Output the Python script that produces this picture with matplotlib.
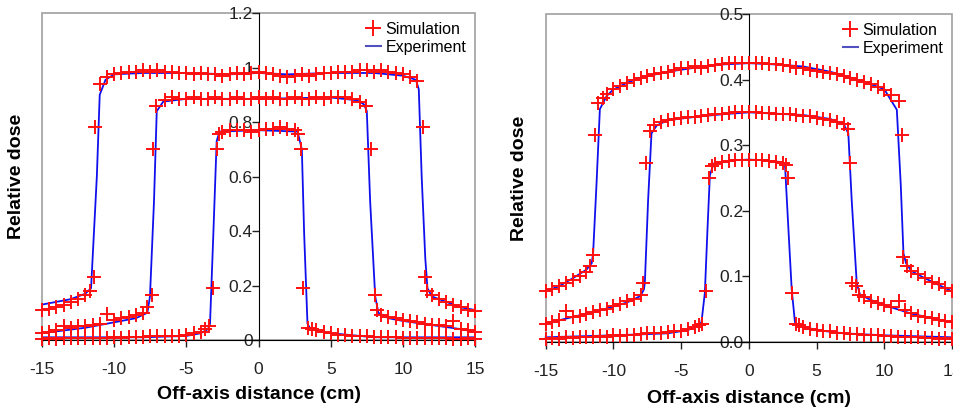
import matplotlib.pyplot as plt
from matplotlib.patches import Rectangle
from matplotlib.lines import Line2D

plt.rcParams['font.family'] = ['Liberation Sans', 'DejaVu Sans']
plt.rcParams['axes.unicode_minus'] = False

# ---------------- Left panel (open field, dose up to 1.2) ----------------
# large field
L_big_sim_x = [-15, -14.5, -14, -13.5, -13, -12.5, -12, -11.7, -11.38, -11.33, -11.0, -10.5, -10, -9.5,
               -9, -8.5, -8, -7.5, -7, -6.5, -6, -5.5, -5, -4.5, -4, -3.5, -3, -2.5, -2, -1.5, -1, -0.5,
               0, 0.5, 1, 1.5, 2, 2.5, 3, 3.5, 4, 4.5, 5, 5.5, 6, 6.5, 7, 7.5, 8, 8.5, 9, 9.5, 10, 10.5,
               11, 11.38, 11.54, 11.7, 12, 12.5, 13, 13.5, 14, 14.5, 15]
L_big_sim_y = [0.11, 0.115, 0.12, 0.13, 0.14, 0.15, 0.165, 0.18, 0.23, 0.78, 0.94, 0.965, 0.975, 0.98,
               0.985, 0.985, 0.99, 0.985, 0.99, 0.985, 0.985, 0.98, 0.98, 0.975, 0.98, 0.975, 0.975, 0.97,
               0.975, 0.98, 0.975, 0.98, 0.985, 0.98, 0.975, 0.97, 0.965, 0.97, 0.975, 0.97, 0.975, 0.98,
               0.98, 0.985, 0.985, 0.985, 0.99, 0.99, 0.985, 0.99, 0.985, 0.98, 0.975, 0.965, 0.95, 0.78,
               0.23, 0.18, 0.165, 0.15, 0.14, 0.13, 0.12, 0.11, 0.105]
L_big_exp_x = [-15, -14, -13, -12, -11.6, -11.2, -11.0, -10.6, -10, -8, -5, -2, 0, 2, 5, 8, 10, 10.9,
               11.1, 11.3, 11.55, 11.7, 12, 13, 14, 15]
L_big_exp_y = [0.13, 0.14, 0.15, 0.17, 0.19, 0.6, 0.9, 0.955, 0.975, 0.98, 0.98, 0.975, 0.98, 0.975,
               0.98, 0.98, 0.97, 0.955, 0.92, 0.6, 0.3, 0.19, 0.16, 0.14, 0.12, 0.11]

# medium field
L_mid_sim_x = [-15, -14.5, -14, -13.5, -13, -12.5, -12, -11.5, -11, -10.5, -10, -9.5, -9, -8.5, -8,
               -7.7, -7.4, -7.28, -7.1, -6.5, -6, -5.5, -5, -4.5, -4, -3.5, -3, -2.5, -2, -1.5, -1, -0.5,
               0, 0.5, 1, 1.5, 2, 2.5, 3, 3.5, 4, 4.5, 5, 5.5, 6, 6.5, 7, 7.45, 7.78, 8.06, 8.2, 8.5, 9,
               9.5, 10, 10.5, 11, 11.5, 12, 12.5, 13, 13.5, 14, 14.5, 15]
L_mid_sim_y = [0.025, 0.03, 0.035, 0.05, 0.045, 0.05, 0.05, 0.055, 0.06, 0.095, 0.075, 0.08, 0.085, 0.09,
               0.1, 0.12, 0.165, 0.70, 0.86, 0.88, 0.89, 0.885, 0.885, 0.89, 0.885, 0.885, 0.89, 0.885,
               0.885, 0.89, 0.885, 0.885, 0.89, 0.885, 0.89, 0.885, 0.885, 0.89, 0.885, 0.885, 0.89,
               0.885, 0.89, 0.89, 0.89, 0.885, 0.875, 0.86, 0.70, 0.165, 0.11, 0.09, 0.085, 0.08, 0.075,
               0.07, 0.065, 0.06, 0.055, 0.055, 0.05, 0.07, 0.04, 0.035, 0.03]
L_mid_exp_x = [-15, -12, -10, -8.5, -7.7, -7.52, -7.24, -7.05, -6.6, -5, 0, 5, 6.8, 7.3, 7.5, 7.73, 8.08,
               8.3, 9, 10, 12, 14, 15]
L_mid_exp_y = [0.025, 0.045, 0.065, 0.08, 0.1, 0.16, 0.51, 0.84, 0.875, 0.885, 0.885, 0.89, 0.88, 0.865,
               0.84, 0.51, 0.16, 0.1, 0.08, 0.07, 0.055, 0.04, 0.03]

# small field
L_small_sim_x = [-15, -14.5, -14, -13.5, -13, -12.5, -12, -11.5, -11, -10.5, -10, -9.5, -9, -8.5, -8,
                 -7.5, -7, -6.5, -6, -5.5, -5, -4.5, -4, -3.7, -3.45, -3.13, -2.9, -2.75, -2.5, -2, -1.5,
                 -1, -0.5, 0, 0.5, 1, 1.5, 2, 2.5, 2.75, 2.95, 3.1, 3.43, 3.7, 4, 4.5, 5, 5.5, 6, 6.5, 7,
                 7.5, 8, 8.5, 9, 9.5, 10, 10.5, 11, 11.5, 12, 12.5, 13, 13.5, 14, 14.5, 15]
L_small_sim_y = [0.005, 0.006, 0.005, 0.007, 0.006, 0.007, 0.008, 0.007, 0.009, 0.008, 0.01, 0.009, 0.01,
                 0.011, 0.012, 0.013, 0.014, 0.014, 0.015, 0.016, 0.02, 0.025, 0.03, 0.04, 0.05, 0.19,
                 0.70, 0.755, 0.765, 0.77, 0.77, 0.77, 0.765, 0.77, 0.775, 0.775, 0.78, 0.775, 0.77, 0.755,
                 0.70, 0.19, 0.045, 0.04, 0.035, 0.03, 0.025, 0.02, 0.018, 0.016, 0.015, 0.013, 0.012,
                 0.011, 0.01, 0.01, 0.009, 0.008, 0.008, 0.007, 0.007, 0.006, 0.006, 0.005, 0.005, 0.006,
                 0.005]
L_small_exp_x = [-15, -8, -5, -4, -3.5, -3.36, -3.13, -2.9, -2.7, 0, 2.7, 3.0, 3.16, 3.39, 3.6, 4, 5, 8, 15]
L_small_exp_y = [0.01, 0.01, 0.015, 0.025, 0.04, 0.06, 0.39, 0.73, 0.765, 0.77, 0.765, 0.70, 0.39, 0.06,
                 0.04, 0.035, 0.025, 0.01, 0.01]

# ---------------- Right panel (dose up to 0.5) ----------------
R_big_sim_x = [-15, -14.5, -14, -13.5, -13, -12.5, -12, -11.7, -11.5, -11.38, -11.15, -10.8, -10.5, -10,
               -9.5, -9, -8.5, -8, -7.5, -7, -6.5, -6, -5.5, -5, -4.5, -4, -3.5, -3, -2.5, -2, -1.5, -1,
               -0.5, 0, 0.5, 1, 1.5, 2, 2.5, 3, 3.5, 4, 4.5, 5, 5.5, 6, 6.5, 7, 7.5, 8, 8.5, 9, 9.5, 10,
               10.5, 11.05, 11.3, 11.4, 11.65, 12, 12.5, 13, 13.5, 14, 14.5, 15]
R_big_sim_y = [0.077, 0.08, 0.085, 0.09, 0.095, 0.1, 0.107, 0.115, 0.133, 0.315, 0.365, 0.372, 0.378,
               0.385, 0.39, 0.395, 0.4, 0.402, 0.405, 0.408, 0.41, 0.412, 0.415, 0.418, 0.418, 0.42,
               0.418, 0.42, 0.422, 0.423, 0.425, 0.425, 0.425, 0.426, 0.425, 0.425, 0.424, 0.423, 0.422,
               0.42, 0.418, 0.417, 0.415, 0.413, 0.412, 0.41, 0.408, 0.405, 0.402, 0.4, 0.396, 0.393,
               0.388, 0.384, 0.377, 0.367, 0.315, 0.13, 0.115, 0.108, 0.103, 0.097, 0.092, 0.088, 0.082,
               0.077]
R_big_exp_x = [-15, -14, -13, -12, -11.6, -11.5, -11.25, -11.0, -10.5, -10, -9, -8, -6, -4, -2, 0, 2, 4,
               6, 8, 9, 10, 10.92, 11.21, 11.41, 11.6, 12, 13, 14, 15]
R_big_exp_y = [0.077, 0.085, 0.097, 0.11, 0.12, 0.135, 0.24, 0.355, 0.375, 0.385, 0.395, 0.403, 0.412,
               0.418, 0.423, 0.425, 0.423, 0.42, 0.412, 0.4, 0.393, 0.385, 0.354, 0.24, 0.135, 0.12,
               0.108, 0.097, 0.087, 0.077]

R_mid_sim_x = [-15, -14.5, -14, -13.5, -13, -12.5, -12, -11.5, -11, -10.5, -10, -9.5, -9, -8.5, -8,
               -7.8, -7.56, -7.3, -7, -6.5, -6, -5.5, -5, -4.5, -4, -3.5, -3, -2.5, -2, -1.5, -1, -0.5,
               0, 0.5, 1, 1.5, 2, 2.5, 3, 3.5, 4, 4.5, 5, 5.5, 6, 6.5, 7, 7.3, 7.47, 7.59, 7.9, 8.1, 8.5,
               9, 9.5, 10, 10.5, 11.1, 11.5, 12, 12.5, 13, 13.5, 14, 14.5, 15]
R_mid_sim_y = [0.028, 0.03, 0.033, 0.047, 0.038, 0.04, 0.043, 0.045, 0.048, 0.05, 0.055, 0.058, 0.062,
               0.066, 0.072, 0.09, 0.273, 0.322, 0.33, 0.335, 0.338, 0.34, 0.342, 0.343, 0.343, 0.345,
               0.346, 0.347, 0.348, 0.349, 0.35, 0.35, 0.35, 0.35, 0.349, 0.349, 0.348, 0.348, 0.347,
               0.346, 0.345, 0.344, 0.342, 0.34, 0.338, 0.335, 0.332, 0.325, 0.273, 0.09, 0.085, 0.072,
               0.068, 0.063, 0.06, 0.057, 0.053, 0.062, 0.048, 0.044, 0.04, 0.038, 0.036, 0.034, 0.032,
               0.03]
R_mid_exp_x = [-15, -13, -11, -9, -8, -7.75, -7.68, -7.44, -7.19, -6.8, -6, -4, -2, 0, 2, 4, 6, 7, 7.34,
               7.59, 7.96, 8.2, 9, 10, 12, 14, 15]
R_mid_exp_y = [0.028, 0.038, 0.048, 0.06, 0.07, 0.08, 0.09, 0.216, 0.318, 0.33, 0.338, 0.343, 0.347,
               0.35, 0.348, 0.346, 0.34, 0.332, 0.318, 0.216, 0.09, 0.072, 0.064, 0.056, 0.043, 0.034,
               0.03]

R_small_sim_x = [-15, -14.5, -14, -13.5, -13, -12.5, -12, -11.5, -11, -10.5, -10, -9.5, -9, -8.5, -8,
                 -7.5, -7, -6.5, -6, -5.5, -5, -4.5, -4, -3.7, -3.45, -3.15, -2.95, -2.7, -2.5, -2, -1.5,
                 -1, -0.5, 0, 0.5, 1, 1.5, 2, 2.5, 2.75, 2.91, 3.16, 3.45, 3.7, 4, 4.5, 5, 5.5, 6, 6.5, 7,
                 7.5, 8, 8.5, 9, 9.5, 10, 10.5, 11, 11.5, 12, 12.5, 13, 13.5, 14, 14.5, 15]
R_small_sim_y = [0.005, 0.006, 0.005, 0.007, 0.006, 0.007, 0.008, 0.007, 0.009, 0.008, 0.01, 0.009, 0.01,
                 0.011, 0.012, 0.013, 0.014, 0.014, 0.015, 0.016, 0.017, 0.019, 0.022, 0.025, 0.028,
                 0.077, 0.25, 0.268, 0.272, 0.275, 0.276, 0.277, 0.278, 0.278, 0.277, 0.277, 0.276, 0.275,
                 0.273, 0.27, 0.25, 0.075, 0.028, 0.025, 0.022, 0.02, 0.018, 0.017, 0.016, 0.014, 0.013,
                 0.012, 0.012, 0.011, 0.01, 0.01, 0.009, 0.009, 0.008, 0.008, 0.007, 0.007, 0.006, 0.006,
                 0.005, 0.006, 0.005]
R_small_exp_x = [-15, -10, -6, -4.5, -3.7, -3.5, -3.25, -3.05, -2.88, -2.6, -1, 0, 1, 2.5, 2.67, 2.91,
                 3.16, 3.4, 3.7, 5, 7, 10, 15]
R_small_exp_y = [0.007, 0.01, 0.013, 0.018, 0.025, 0.03, 0.075, 0.175, 0.254, 0.272, 0.277, 0.278, 0.277,
                 0.274, 0.268, 0.175, 0.08, 0.03, 0.025, 0.018, 0.013, 0.01, 0.007]

L_yticks = [0, 0.2, 0.4, 0.6, 0.8, 1.0, 1.2]
L_yticklabels = ['0', '0.2', '0.4', '0.6', '0.8', '1', '1.2']
R_yticks = [0, 0.1, 0.2, 0.3, 0.4, 0.5]
R_yticklabels = ['0.0', '0.1', '0.2', '0.3', '0.4', '0.5']
xticks = [-15, -10, -5, 0, 5, 10, 15]

fig = plt.figure(figsize=(9.54, 4.07), dpi=100)
ax1 = fig.add_axes([0.044, 0.1646, 0.454, 0.8034])
ax2 = fig.add_axes([0.572, 0.160, 0.426, 0.8056])


def draw_panel(ax, curves, ylim, yticks, yticklabels, ylab_x, xlab_y):
    for ex, ey, sx, sy in curves:
        ax.plot(ex, ey, color='#1010ee', lw=1.3, zorder=2, clip_on=False)
        ax.plot(sx, sy, ls='none', marker='+', color='#ff1010', ms=9.5, mew=1.4, zorder=3, clip_on=False)
    ax.set_xlim(-15, 15)
    ax.set_ylim(*ylim)
    ax.spines['left'].set_position(('data', 0))
    ax.spines['left'].set_color('black')
    ax.spines['bottom'].set_color('black')
    for s in ['top', 'right']:
        ax.spines[s].set_visible(False)
    ax.add_patch(Rectangle((0, 0), 1, 1, transform=ax.transAxes, fill=False,
                           edgecolor='#a0a0a0', lw=1.2, zorder=0, clip_on=False))
    ax.set_yticks(yticks)
    ax.set_yticklabels(yticklabels)
    ax.set_xticks(xticks)
    ax.tick_params(axis='y', direction='out', length=5, width=1, labelsize=12.5, pad=-1, colors='#222222')
    ax.tick_params(axis='x', direction='out', length=5, width=1, labelsize=12.5, pad=11, colors='#222222')
    ax.set_ylabel('Relative dose', fontsize=14, fontweight='bold')
    ax.yaxis.set_label_coords(ylab_x, 0.5)
    ax.set_xlabel('Off-axis distance (cm)', fontsize=14, fontweight='bold')
    ax.xaxis.set_label_coords(0.5, xlab_y)
    handles = [Line2D([], [], ls='none', marker='+', color='#ff1010', ms=12, mew=1.4),
               Line2D([], [], color='#5050c0', lw=1.5)]
    ax.legend(handles, ['Simulation', 'Experiment'], loc='upper right', frameon=False, fontsize=11.5,
              handlelength=0.9, handletextpad=0.3, labelspacing=0.2, borderaxespad=0.15)


draw_panel(ax1,
           [(L_big_exp_x, L_big_exp_y, L_big_sim_x, L_big_sim_y),
            (L_mid_exp_x, L_mid_exp_y, L_mid_sim_x, L_mid_sim_y),
            (L_small_exp_x, L_small_exp_y, L_small_sim_x, L_small_sim_y)],
           (0, 1.2), L_yticks, L_yticklabels, -0.039, -0.14)
draw_panel(ax2,
           [(R_big_exp_x, R_big_exp_y, R_big_sim_x, R_big_sim_y),
            (R_mid_exp_x, R_mid_exp_y, R_mid_sim_x, R_mid_sim_y),
            (R_small_exp_x, R_small_exp_y, R_small_sim_x, R_small_sim_y)],
           (0, 0.5), R_yticks, R_yticklabels, -0.044, -0.146)

plt.savefig('out.png', dpi=100)
